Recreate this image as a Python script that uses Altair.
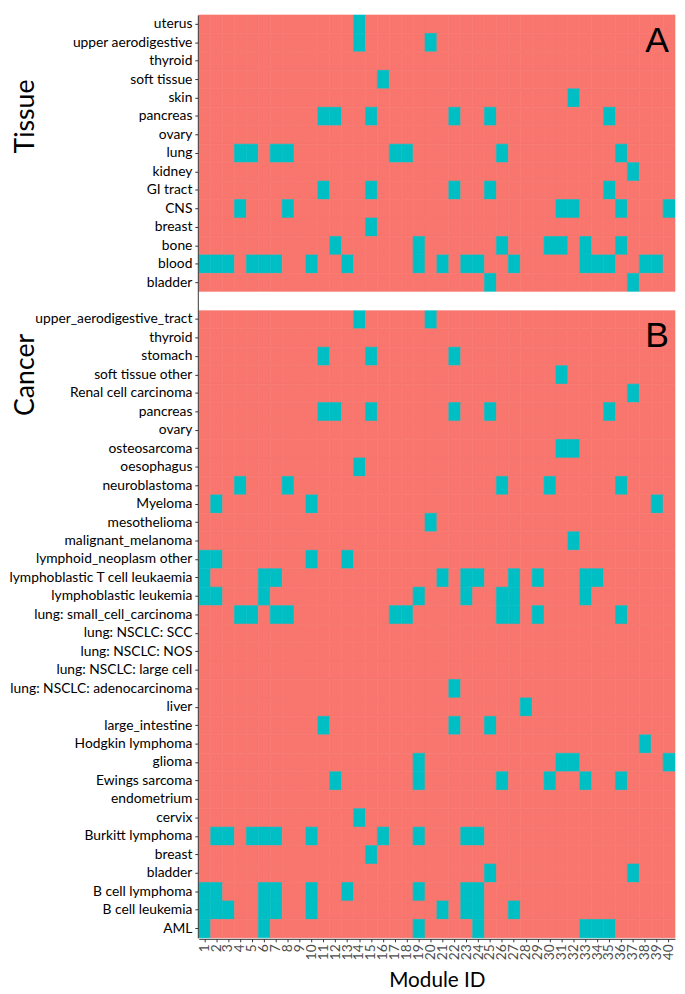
import altair as alt
import pandas as pd

modules = [str(i) for i in range(1, 41)]

tissue_labels = ["uterus", "upper aerodigestive", "thyroid", "soft tissue", "skin",
                 "pancreas", "ovary", "lung", "kidney", "GI tract", "CNS", "breast",
                 "bone", "blood", "bladder"]
tissue_hits = [
    [14],
    [14, 20],
    [],
    [16],
    [32],
    [11, 12, 15, 22, 25, 35],
    [],
    [4, 5, 7, 8, 17, 18, 26, 36],
    [37],
    [11, 15, 22, 25, 35],
    [4, 8, 31, 32, 36, 40],
    [15],
    [12, 19, 26, 30, 31, 33, 36],
    [1, 2, 3, 5, 6, 7, 10, 13, 19, 21, 23, 24, 27, 33, 34, 35, 38, 39],
    [25, 37],
]

cancer_labels = ["upper_aerodigestive_tract", "thyroid", "stomach", "soft tissue other",
                 "Renal cell carcinoma", "pancreas", "ovary", "osteosarcoma", "oesophagus",
                 "neuroblastoma", "Myeloma", "mesothelioma", "malignant_melanoma",
                 "lymphoid_neoplasm other", "lymphoblastic T cell leukaemia",
                 "lymphoblastic leukemia", "lung: small_cell_carcinoma", "lung: NSCLC: SCC",
                 "lung: NSCLC: NOS", "lung: NSCLC: large cell", "lung: NSCLC: adenocarcinoma",
                 "liver", "large_intestine", "Hodgkin lymphoma", "glioma", "Ewings sarcoma",
                 "endometrium", "cervix", "Burkitt lymphoma", "breast", "bladder",
                 "B cell lymphoma", "B cell leukemia", "AML"]
cancer_hits = [
    [14, 20],
    [],
    [11, 15, 22],
    [31],
    [37],
    [11, 12, 15, 22, 25, 35],
    [],
    [31, 32],
    [14],
    [4, 8, 26, 30, 36],
    [2, 10, 39],
    [20],
    [32],
    [1, 2, 10, 13],
    [1, 6, 7, 21, 23, 24, 27, 29, 33, 34],
    [1, 2, 6, 19, 23, 26, 27, 33],
    [4, 5, 7, 8, 17, 18, 26, 27, 29, 36],
    [],
    [],
    [],
    [22],
    [28],
    [11, 22, 25],
    [38],
    [19, 31, 32, 40],
    [12, 19, 26, 30, 33, 36],
    [],
    [14],
    [2, 3, 5, 6, 7, 10, 16, 19, 23, 24],
    [15],
    [25, 37],
    [1, 2, 6, 7, 10, 13, 19, 23, 24],
    [1, 2, 3, 6, 7, 10, 21, 23, 24, 27],
    [1, 6, 19, 24, 33, 34, 35],
]

panel_letters = ["A", "B"]
panel_titles = ["Tissue", "Cancer"]

SALMON = "#F8766D"
TEAL = "#00BFC4"

keysA = ["A|" + t for t in tissue_labels]
keysB = ["B|" + c for c in cancer_labels]
ydomain = keysA + ["gap"] + keysB

records = []
for keys, hits_list in ((keysA, tissue_hits), (keysB, cancer_hits)):
    for key, hits in zip(keys, hits_list):
        for m in modules:
            records.append({"key": key, "module": m,
                            "state": "yes" if int(m) in hits else "no"})
df = pd.DataFrame(records)

W, H = 483, 936
font = "Lato"

x_scale = alt.Scale(domain=modules, paddingInner=0, paddingOuter=0)
y_scale = alt.Scale(domain=ydomain, paddingInner=0, paddingOuter=0)

cells = alt.Chart(df).mark_rect(strokeWidth=0.6).encode(
    x=alt.X("module:N", scale=x_scale, sort=modules,
            axis=alt.Axis(title="Module ID", labelAngle=270, labelColor="#4D4D4D",
                          labelFontSize=14, labelPadding=2, tickSize=3, tickColor="#333333",
                          domainColor="#333333", domainWidth=1, titleFontSize=21,
                          titleFontWeight="normal", titleColor="black", titlePadding=10,
                          labelFont=font, titleFont=font, offset=1)),
    y=alt.Y("key:N", scale=y_scale, sort=ydomain,
            axis=alt.Axis(title=None, values=keysA + keysB,
                          labelExpr="split(datum.label, '|')[1]",
                          labelColor="black", labelFontSize=14, labelFont=font,
                          labelPadding=3, labelLimit=400, tickSize=3, tickColor="#333333",
                          domainColor="#333333", domainWidth=1, offset=1)),
    color=alt.Color("state:N", scale=alt.Scale(domain=["no", "yes"], range=[SALMON, TEAL]),
                    legend=None),
    stroke=alt.Stroke("state:N", scale=alt.Scale(domain=["no", "yes"], range=[SALMON, TEAL]),
                      legend=None),
)

gap = alt.Chart(pd.DataFrame({"key": ["gap"]})).mark_rect(color="white").encode(
    y=alt.Y("key:N", scale=y_scale, sort=ydomain),
    x=alt.value(-12),
    x2=alt.value(W + 2),
)

letters = alt.Chart(pd.DataFrame({
    "letter": panel_letters,
    "key": [keysA[1], keysB[1]],
    "module": ["39", "39"],
})).mark_text(fontSize=36, font="Liberation Sans", color="black",
              baseline="alphabetic", align="center", dy=9).encode(
    x=alt.X("module:N", scale=x_scale, sort=modules),
    y=alt.Y("key:N", scale=y_scale, sort=ydomain),
    text="letter:N",
)

titles = alt.Chart(pd.DataFrame({
    "title": panel_titles,
    "key": [keysA[5], keysB[3]],
})).mark_text(fontSize=27, font=font, color="black", angle=270,
              align="center", baseline="middle").encode(
    y=alt.Y("key:N", scale=y_scale, sort=ydomain),
    x=alt.value(-175),
    text="title:N",
)

chart = alt.layer(cells, gap, letters, titles).properties(
    width=W, height=H,
    padding={"left": 193.5, "top": 0, "right": 2, "bottom": 60},
    autosize=alt.AutoSizeParams(type="none"),
).configure_view(strokeWidth=0)

chart.save("out.html", embed_options={"renderer": "svg", "actions": False})
